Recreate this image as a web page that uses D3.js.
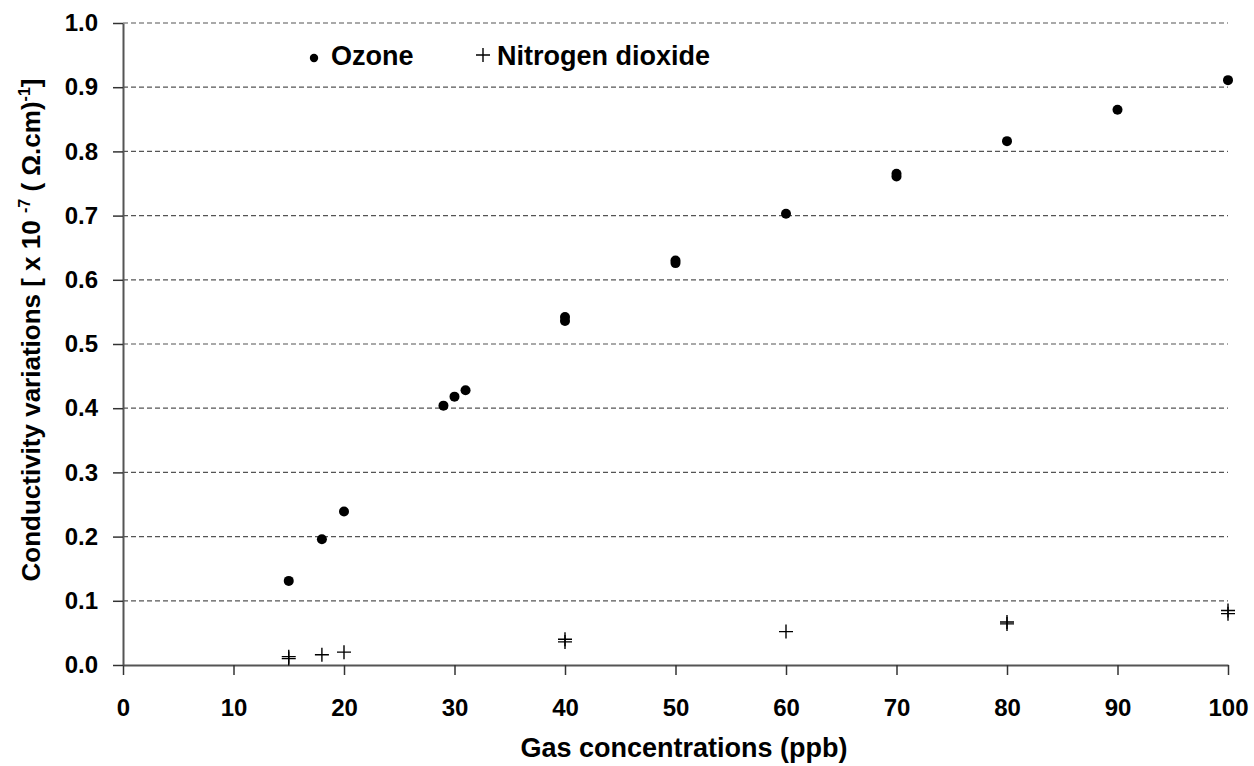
<!DOCTYPE html>
<html>
<head>
<meta charset="utf-8">
<script src="https://cdn.jsdelivr.net/npm/d3@7"></script>
<style>
  body { margin: 0; background: #fff; }
  text { font-family: "Liberation Sans", Arial, sans-serif; font-weight: bold; fill: #000; }
</style>
</head>
<body>
<div id="chart"></div>
<script>
var width = 1254,
	height = 766;

// data
var ozoneX = [15, 18, 20, 29, 30, 31, 40, 40, 50, 50, 60, 70, 70, 80, 90, 100];
var ozoneY = [0.131, 0.196, 0.239, 0.404, 0.418, 0.428, 0.536, 0.542, 0.626, 0.630, 0.703, 0.761, 0.765, 0.816, 0.865, 0.911];
var no2X = [15, 15, 18, 20, 40, 40, 60, 80, 80, 100, 100];
var no2Y = [0.010, 0.013, 0.016, 0.020, 0.036, 0.040, 0.052, 0.064, 0.067, 0.080, 0.085];
var xTicks = [0, 10, 20, 30, 40, 50, 60, 70, 80, 90, 100];
var yTicks = [0.0, 0.1, 0.2, 0.3, 0.4, 0.5, 0.6, 0.7, 0.8, 0.9, 1.0];

var margin = {left: 123, right: 26, top: 23, bottom: 101};

var svg = d3.select("#chart").append("svg")
	.attr("width", width)
	.attr("height", height);

var x = d3.scaleLinear().domain([0, 100]).range([margin.left, width - margin.right]);
var y = d3.scaleLinear().domain([0, 1]).range([height - margin.bottom, margin.top]);

//网格线
svg.append("g")
	.selectAll("line")
	.data(yTicks.slice(1))
	.enter()
	.append("line")
	.attr("x1", x(0))
	.attr("x2", x(100))
	.attr("y1", function(d){ return y(d); })
	.attr("y2", function(d){ return y(d); })
	.attr("stroke", "#555")
	.attr("stroke-width", 1.2)
	.attr("stroke-dasharray", "5,3");

//坐标轴
var xAxis = svg.append("g")
	.attr("transform", "translate(0," + y(0) + ")")
	.call(d3.axisBottom(x).tickValues(xTicks).tickSize(10).tickSizeOuter(0).tickPadding(24));
var yAxis = svg.append("g")
	.attr("transform", "translate(" + x(0) + ",0)")
	.call(d3.axisLeft(y).tickValues(yTicks).tickSize(10).tickSizeOuter(0).tickPadding(15).tickFormat(d3.format(".1f")));

[xAxis, yAxis].forEach(function(a){
	a.select(".domain").attr("stroke", "#555").attr("stroke-width", 2);
	a.selectAll(".tick line").attr("stroke", "#333").attr("stroke-width", 1.5);
	a.selectAll(".tick text")
		.attr("fill", "#000")
		.style("font-family", '"Liberation Sans", Arial, sans-serif')
		.style("font-weight", "bold")
		.style("font-size", "24px");
});

//数据点
svg.append("g")
	.selectAll("circle")
	.data(ozoneX)
	.enter()
	.append("circle")
	.attr("cx", function(d){ return x(d); })
	.attr("cy", function(d, i){ return y(ozoneY[i]); })
	.attr("r", 5)
	.attr("fill", "#000");

var plus = "M-7,0H7M0,-7V7";
svg.append("g")
	.selectAll("path")
	.data(no2X)
	.enter()
	.append("path")
	.attr("transform", function(d, i){ return "translate(" + x(d) + "," + y(no2Y[i]) + ")"; })
	.attr("d", plus)
	.attr("stroke", "#000")
	.attr("stroke-width", 1.4)
	.attr("fill", "none");

//图例
var legend = svg.append("g");
legend.append("circle").attr("cx", 314).attr("cy", 58).attr("r", 4.2).attr("fill", "#000");
legend.append("text").attr("x", 331).attr("y", 65).style("font-size", "27px").text("Ozone");
legend.append("path").attr("transform", "translate(483,55)").attr("d", plus)
	.attr("stroke", "#000").attr("stroke-width", 1.4);
legend.append("text").attr("x", 497).attr("y", 65).style("font-size", "27px").text("Nitrogen dioxide");

//坐标轴标题
svg.append("text")
	.attr("x", 684)
	.attr("y", 757)
	.attr("text-anchor", "middle")
	.style("font-size", "27px")
	.text("Gas concentrations (ppb)");

var ylab = svg.append("text")
	.attr("transform", "translate(40,330) rotate(-90)")
	.attr("text-anchor", "middle")
	.style("font-size", "26px");
ylab.append("tspan").text("Conductivity variations [ x 10 ");
ylab.append("tspan").attr("dy", -10).style("font-size", "16px").text("-7");
ylab.append("tspan").attr("dy", 10).text(" ( \u03A9.cm)");
ylab.append("tspan").attr("dy", -10).style("font-size", "16px").text("-1");
ylab.append("tspan").attr("dy", 10).text("]");
</script>
</body>
</html>
